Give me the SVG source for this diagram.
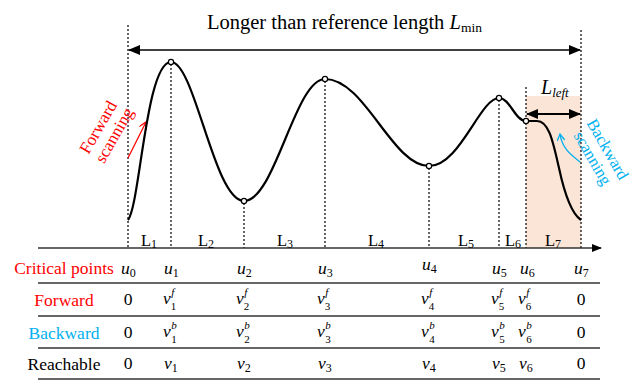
<svg xmlns="http://www.w3.org/2000/svg" width="634" height="380" viewBox="0 0 634 380" font-family="'Liberation Serif', 'Times New Roman', serif">
<style>
text{font-family:'Liberation Serif','Times New Roman',serif}
.dot{stroke:#000;stroke-width:1.2;stroke-dasharray:2,2;fill:none}
.rule{stroke:#333;stroke-width:1.4}
.t{font-size:17.5px}
.i{font-style:italic}
.sub{font-size:12px}
.sm{font-size:11px}
.n{font-style:normal}
.lab{font-size:16.5px}
.red{fill:#ff0000}
.cyan{fill:#00b0f0}
.pt{fill:#fff;stroke:#000;stroke-width:1.2}
</style>
<defs>
<marker id="ah" markerWidth="10" markerHeight="8" refX="9" refY="4" orient="auto-start-reverse" markerUnits="userSpaceOnUse"><path d="M0,0 L10,4 L0,8 Z" fill="#000"/></marker>
<marker id="ah2" markerWidth="12" markerHeight="10" refX="11" refY="5" orient="auto-start-reverse" markerUnits="userSpaceOnUse"><path d="M0,0 L12,5 L0,10 Z" fill="#000"/></marker>
<marker id="ahr" markerWidth="8" markerHeight="8" refX="7" refY="4" orient="auto" markerUnits="userSpaceOnUse"><path d="M0,0 L7,4 L0,8" fill="none" stroke="#ff0000" stroke-width="1.3"/></marker>
<marker id="ahc" markerWidth="8" markerHeight="8" refX="7" refY="4" orient="auto" markerUnits="userSpaceOnUse"><path d="M0,0 L7,4 L0,8" fill="none" stroke="#00b0f0" stroke-width="1.3"/></marker>
</defs>
<rect x="526" y="96" width="55" height="152" fill="#fbe5d6"/>
<g id="title">
<text x="207" y="29" font-size="20.5">Longer than reference length <tspan class="i">L</tspan><tspan font-size="13.5" dy="3">min</tspan></text>
</g>
<g id="guides">
<line class="dot" x1="128" y1="25" x2="128" y2="248"/>
<line class="dot" x1="581" y1="30" x2="581" y2="248"/>
<line class="dot" x1="171" y1="64" x2="171" y2="248"/>
<line class="dot" x1="244" y1="203" x2="244" y2="248"/>
<line class="dot" x1="325" y1="81" x2="325" y2="248"/>
<line class="dot" x1="429" y1="168" x2="429" y2="248"/>
<line class="dot" x1="499" y1="100" x2="499" y2="248"/>
<line class="dot" x1="526" y1="87" x2="526" y2="248"/>
</g>
<g id="connectors">
<line x1="129" y1="50" x2="580" y2="50" stroke="#000" stroke-width="1.5" marker-start="url(#ah2)" marker-end="url(#ah2)"/>
<line x1="527" y1="114" x2="580" y2="114" stroke="#000" stroke-width="1.8" marker-start="url(#ah2)" marker-end="url(#ah2)"/>
<line x1="38" y1="248" x2="601" y2="248" stroke="#333" stroke-width="1.5" marker-end="url(#ah)"/>
<path d="M128,158 L146,122" stroke="#ff0000" stroke-width="1.3" fill="none" marker-end="url(#ahr)"/>
<path d="M580,162 C570,154 562,148 560,134" stroke="#00b0f0" stroke-width="1.3" fill="none" marker-end="url(#ahc)"/>
</g>
<g id="curve">
<path d="M128,220 C140,205 146,62 171,62 C195,62 214,201 244,201 C275,201 295,79 325,79 C365,79 392,166 429,166 C460,166 480,98 499,98 C510,98 515,121 526,121 L537,121 C549,121 553,142 559,168 C565,196 572,214 581,220" fill="none" stroke="#000" stroke-width="2.2"/>
<circle class="pt" cx="171" cy="62" r="2.6"/>
<circle class="pt" cx="244" cy="201" r="2.6"/>
<circle class="pt" cx="325" cy="79" r="2.6"/>
<circle class="pt" cx="429" cy="166" r="2.6"/>
<circle class="pt" cx="499" cy="98" r="2.6"/>
<circle class="pt" cx="526" cy="121" r="2.6"/>
</g>
<g id="lleft"><text x="541" y="94" font-size="20" class="i">L<tspan font-size="13" dy="3">left</tspan></text></g>
<g id="forward-scanning">
<text class="red" font-size="17" text-anchor="middle" transform="translate(103,130) rotate(-60)">Forward</text>
<text class="red" font-size="17" text-anchor="middle" transform="translate(119,138) rotate(-60)">scanning</text>
</g>
<g id="backward-scanning">
<text class="cyan" font-size="16.5" text-anchor="middle" transform="translate(603,152) rotate(60)">Backward</text>
<text class="cyan" font-size="16.5" text-anchor="middle" transform="translate(588,161) rotate(60)">scanning</text>
</g>
<g id="segments">
<text x="141" y="246" class="lab">L<tspan class="sub" dy="2">1</tspan></text>
<text x="198" y="246" class="lab">L<tspan class="sub" dy="2">2</tspan></text>
<text x="277" y="246" class="lab">L<tspan class="sub" dy="2">3</tspan></text>
<text x="368" y="246" class="lab">L<tspan class="sub" dy="2">4</tspan></text>
<text x="458" y="246" class="lab">L<tspan class="sub" dy="2">5</tspan></text>
<text x="505" y="246" class="lab">L<tspan class="sub" dy="2">6</tspan></text>
<text x="545" y="246" class="lab">L<tspan class="sub" dy="2">7</tspan></text>
</g>
<g id="table">
<line class="rule" x1="38" y1="283" x2="600" y2="283"/>
<line class="rule" x1="38" y1="316" x2="600" y2="316"/>
<line class="rule" x1="38" y1="348" x2="600" y2="348"/>
<line class="rule" x1="38" y1="379" x2="600" y2="379"/>
<text class="t red" x="64" y="274" text-anchor="middle">Critical points</text>
<text class="t red" x="64" y="306" text-anchor="middle">Forward</text>
<text class="t cyan" x="64" y="339" text-anchor="middle">Backward</text>
<text class="t" x="64" y="370" text-anchor="middle">Reachable</text>
<g class="t">
<text x="121" y="274" class="i">u<tspan class="sub n" dy="3">0</tspan></text>
<text x="164" y="274" class="i">u<tspan class="sub n" dy="3">1</tspan></text>
<text x="237" y="274" class="i">u<tspan class="sub n" dy="3">2</tspan></text>
<text x="318" y="274" class="i">u<tspan class="sub n" dy="3">3</tspan></text>
<text x="422" y="270" class="i">u<tspan class="sub n" dy="3">4</tspan></text>
<text x="492" y="274" class="i">u<tspan class="sub n" dy="3">5</tspan></text>
<text x="520" y="274" class="i">u<tspan class="sub n" dy="3">6</tspan></text>
<text x="574" y="274" class="i">u<tspan class="sub n" dy="3">7</tspan></text>
</g>
<g class="t">
<text x="128" y="305" text-anchor="middle">0</text>
<text x="581" y="305" text-anchor="middle">0</text>
<text x="128" y="338" text-anchor="middle">0</text>
<text x="581" y="338" text-anchor="middle">0</text>
<text x="128" y="369" text-anchor="middle">0</text>
<text x="581" y="369" text-anchor="middle">0</text>
</g>
<g id="fwd-vals" class="t">
<text x="163" y="304" class="i">v<tspan class="sm" dx="0.5" dy="-8">f</tspan><tspan class="sm n" dx="-3.5" dy="14">1</tspan></text>
<text x="236" y="304" class="i">v<tspan class="sm" dx="0.5" dy="-8">f</tspan><tspan class="sm n" dx="-3.5" dy="14">2</tspan></text>
<text x="317" y="304" class="i">v<tspan class="sm" dx="0.5" dy="-8">f</tspan><tspan class="sm n" dx="-3.5" dy="14">3</tspan></text>
<text x="421" y="304" class="i">v<tspan class="sm" dx="0.5" dy="-8">f</tspan><tspan class="sm n" dx="-3.5" dy="14">4</tspan></text>
<text x="491" y="304" class="i">v<tspan class="sm" dx="0.5" dy="-8">f</tspan><tspan class="sm n" dx="-3.5" dy="14">5</tspan></text>
<text x="518" y="304" class="i">v<tspan class="sm" dx="0.5" dy="-8">f</tspan><tspan class="sm n" dx="-3.5" dy="14">6</tspan></text>
</g>
<g id="bwd-vals" class="t">
<text x="163" y="337" class="i">v<tspan class="sm" dx="0.5" dy="-8">b</tspan><tspan class="sm n" dx="-5.5" dy="14">1</tspan></text>
<text x="236" y="337" class="i">v<tspan class="sm" dx="0.5" dy="-8">b</tspan><tspan class="sm n" dx="-5.5" dy="14">2</tspan></text>
<text x="317" y="337" class="i">v<tspan class="sm" dx="0.5" dy="-8">b</tspan><tspan class="sm n" dx="-5.5" dy="14">3</tspan></text>
<text x="421" y="337" class="i">v<tspan class="sm" dx="0.5" dy="-8">b</tspan><tspan class="sm n" dx="-5.5" dy="14">4</tspan></text>
<text x="491" y="337" class="i">v<tspan class="sm" dx="0.5" dy="-8">b</tspan><tspan class="sm n" dx="-5.5" dy="14">5</tspan></text>
<text x="518" y="337" class="i">v<tspan class="sm" dx="0.5" dy="-8">b</tspan><tspan class="sm n" dx="-5.5" dy="14">6</tspan></text>
</g>
<g id="reach-vals" class="t">
<text x="164" y="369" class="i">v<tspan class="sub n" dy="3">1</tspan></text>
<text x="237" y="369" class="i">v<tspan class="sub n" dy="3">2</tspan></text>
<text x="318" y="369" class="i">v<tspan class="sub n" dy="3">3</tspan></text>
<text x="422" y="369" class="i">v<tspan class="sub n" dy="3">4</tspan></text>
<text x="492" y="369" class="i">v<tspan class="sub n" dy="3">5</tspan></text>
<text x="519" y="369" class="i">v<tspan class="sub n" dy="3">6</tspan></text>
</g>
</g>
</svg>
